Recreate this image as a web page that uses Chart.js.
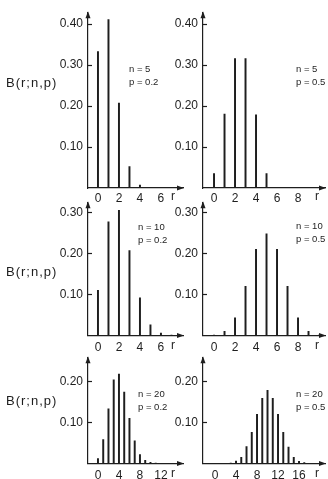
<!DOCTYPE html>
<html>
<head>
<meta charset="utf-8">
<script src="https://cdn.jsdelivr.net/npm/chart.js@4/dist/chart.umd.min.js"></script>
<style>
  body { margin: 0; background: #fff; }
  #wrap { position: relative; width: 328px; height: 479px; overflow: hidden; }
  canvas { position: absolute; }
</style>
</head>
<body>
<div id="wrap">
  <canvas id="tl" width="190" height="205" style="left:0;top:0"></canvas>
  <canvas id="tr" width="168" height="205" style="left:160px;top:0"></canvas>
  <canvas id="ml" width="190" height="166" style="left:0;top:190px"></canvas>
  <canvas id="mr" width="168" height="166" style="left:160px;top:190px"></canvas>
  <canvas id="bl" width="190" height="134" style="left:0;top:345px"></canvas>
  <canvas id="br" width="168" height="134" style="left:160px;top:345px"></canvas>
</div>
<script>
const yTitle = 'B(r;n,p)'
const xName = 'r'

// B(r;n,p), index = r
const n5p02 = [0.332, 0.41, 0.207, 0.052, 0.007, 0]
const n5p05 = [0.035, 0.18, 0.315, 0.315, 0.178, 0.035]
const n10p02 = [0.11, 0.277, 0.305, 0.207, 0.092, 0.026, 0.006, 0.001]
const n10p05 = [0.001, 0.01, 0.043, 0.12, 0.21, 0.248, 0.21, 0.12, 0.043, 0.01, 0.001]
const n20p02 = [0.012, 0.058, 0.133, 0.204, 0.218, 0.174, 0.11, 0.055, 0.022, 0.008, 0.003, 0.001]
const n20p05 = [0, 0, 0, 0.001, 0.006, 0.015, 0.041, 0.076, 0.12, 0.159, 0.178, 0.159, 0.12, 0.076, 0.04, 0.015, 0.005, 0.002]

const xTicksA = [0, 2, 4, 6]
const xTicksB = [0, 2, 4, 6, 8]
const xTicksC = [0, 4, 8, 12]
const xTicksD = [0, 4, 8, 12, 16]
const yTicksTop = [0.1, 0.2, 0.3, 0.4]
const yTicksMid = [0.1, 0.2, 0.3]
const yTicksBot = [0.1, 0.2]

const ink = '#1e1e1e'
const family = "'Liberation Sans', Arial, sans-serif"
const tickFont = { family, size: 12 }

const makePanel = (id, values, note, o) => {
    // draws arrow heads, inward ticks, the r label, n/p note and y title
    const extras = {
        id: 'extras',
        afterDraw(chart) {
            const { ctx, chartArea: a } = chart
            const ys = chart.scales.y
            ctx.save()
            ctx.fillStyle = ink
            ctx.strokeStyle = ink
            ctx.lineWidth = 1.2

            ctx.beginPath()
            ctx.moveTo(a.left, a.top - 1)
            ctx.lineTo(a.left - 2.5, a.top + 6)
            ctx.lineTo(a.left + 2.5, a.top + 6)
            ctx.fill()

            ctx.beginPath()
            ctx.moveTo(a.right + 1, a.bottom)
            ctx.lineTo(a.right - 6, a.bottom - 2.5)
            ctx.lineTo(a.right - 6, a.bottom + 2.5)
            ctx.fill()

            ys.ticks.forEach(t => {
                const y = Math.round(ys.getPixelForValue(t.value)) + 0.5
                ctx.beginPath()
                ctx.moveTo(a.left, y)
                ctx.lineTo(a.left + 4, y)
                ctx.stroke()
            })

            ctx.font = `12px ${family}`
            ctx.textAlign = 'center'
            ctx.textBaseline = 'middle'
            ctx.fillText(xName, a.right - o.rGap, a.bottom + o.labelPad + 6)

            ctx.font = `9.5px ${family}`
            ctx.textAlign = 'left'
            ctx.fillText(note[0], o.noteX, o.noteY)
            ctx.fillText(note[1], o.noteX, o.noteY + 13)

            if (o.titleY) {
                ctx.font = `13px ${family}`
                ctx.letterSpacing = '1px'
                ctx.fillText(yTitle, 6, o.titleY)
            }
            ctx.restore()
        }
    }

    new Chart(document.getElementById(id), {
        type: 'bar',
        data: {
            datasets: [{
                data: values.map((v, r) => ({ x: r, y: v })),
                backgroundColor: ink,
                barThickness: 1.3
            }]
        },
        options: {
            responsive: false,
            animation: false,
            layout: { padding: { top: o.top, right: o.right, left: 0, bottom: 0 } },
            plugins: { legend: { display: false }, tooltip: { enabled: false } },
            scales: {
                x: {
                    type: 'linear',
                    offset: false,
                    min: o.xMin,
                    max: o.xMax,
                    grid: { display: false, drawTicks: false },
                    border: { color: ink, width: 1.2 },
                    afterBuildTicks: s => { s.ticks = o.xTicks.map(v => ({ value: v })) },
                    afterFit: s => { s.height = o.xHeight },
                    ticks: { font: tickFont, color: ink, padding: o.labelPad, maxRotation: 0, autoSkip: false, callback: v => v }
                },
                y: {
                    min: 0,
                    max: o.yMax,
                    grid: { display: false, drawTicks: false },
                    border: { color: ink, width: 1.2 },
                    afterBuildTicks: s => { s.ticks = o.yTicks.map(v => ({ value: v })) },
                    afterFit: s => { s.width = o.yWidth },
                    ticks: { font: tickFont, color: ink, padding: 5, callback: v => v.toFixed(2) }
                }
            }
        },
        plugins: [extras]
    })
}

makePanel('tl', n5p02, ['n = 5', 'p = 0.2'], {
    top: 6, right: 7, yWidth: 88, xHeight: 17, labelPad: 3,
    xMin: -0.95, xMax: 8.1, yMax: 0.428, xTicks: xTicksA, yTicks: yTicksTop,
    rGap: 10, noteX: 129, noteY: 69, titleY: 83
})
makePanel('tr', n5p05, ['n = 5', 'p = 0.5'], {
    top: 6, right: 3, yWidth: 43, xHeight: 17, labelPad: 3,
    xMin: -1.05, xMax: 10.57, yMax: 0.428, xTicks: xTicksB, yTicks: yTicksTop,
    rGap: 8, noteX: 136, noteY: 69
})
makePanel('ml', n10p02, ['n = 10', 'p = 0.2'], {
    top: 9, right: 7, yWidth: 88, xHeight: 20.5, labelPad: 4.5,
    xMin: -0.95, xMax: 8.1, yMax: 0.325, xTicks: xTicksA, yTicks: yTicksMid,
    rGap: 10, noteX: 138, noteY: 37, titleY: 82
})
makePanel('mr', n10p05, ['n = 10', 'p = 0.5'], {
    top: 9, right: 3, yWidth: 43, xHeight: 20.5, labelPad: 4.5,
    xMin: -1.05, xMax: 10.57, yMax: 0.325, xTicks: xTicksB, yTicks: yTicksMid,
    rGap: 8, noteX: 136, noteY: 36
})
makePanel('bl', n20p02, ['n = 20', 'p = 0.2'], {
    top: 7, right: 7, yWidth: 88, xHeight: 15.5, labelPad: 4.5,
    xMin: -1.9, xMax: 16.2, yMax: 0.259, xTicks: xTicksC, yTicks: yTicksBot,
    rGap: 10, noteX: 138, noteY: 49, titleY: 56
})
makePanel('br', n20p05, ['n = 20', 'p = 0.5'], {
    top: 7, right: 3, yWidth: 43, xHeight: 15.5, labelPad: 4.5,
    xMin: -2.29, xMax: 20.95, yMax: 0.259, xTicks: xTicksD, yTicks: yTicksBot,
    rGap: 8, noteX: 136, noteY: 49
})
</script>
</body>
</html>
